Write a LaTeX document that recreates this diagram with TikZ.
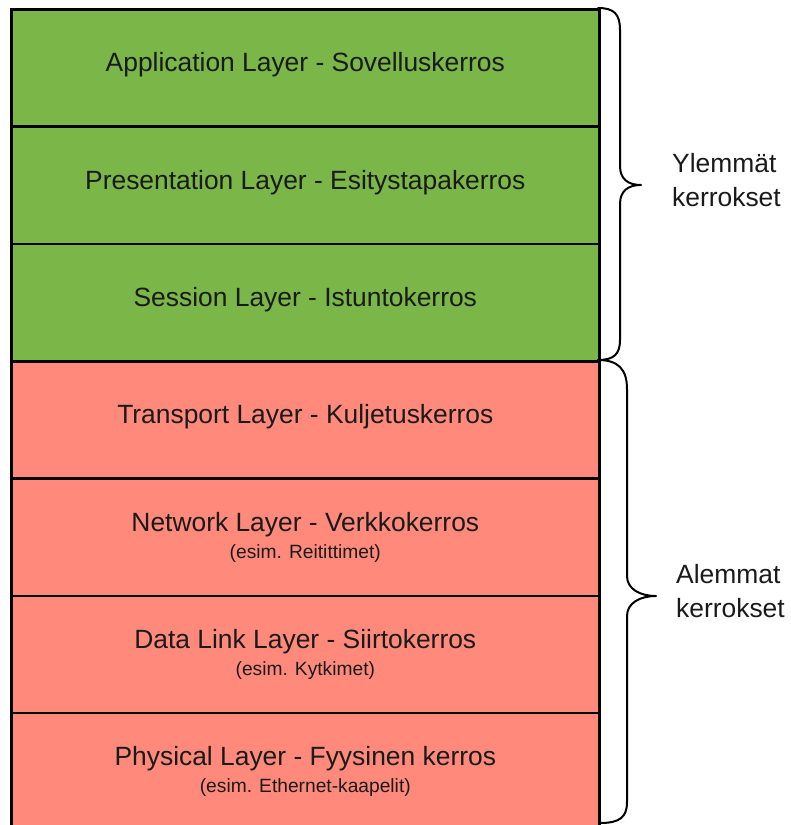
\documentclass[tikz,border=0pt]{standalone}
\usepackage{fontspec}
\setmainfont{Liberation Sans}
\definecolor{layergreen}{HTML}{7AB648}
\definecolor{layerred}{HTML}{FF8A7C}
\definecolor{txt}{HTML}{1A1A1A}
\begin{document}
\begin{tikzpicture}[x=1pt,y=-1pt,
  layerbox/.style={draw=black, line width=2.6pt, anchor=north west, minimum width=588pt, minimum height=117.3pt, inner sep=0pt},
  upper/.style={layerbox, fill=layergreen},
  lower/.style={layerbox, fill=layerred},
  ltext/.style={align=center, text=txt, inner sep=0pt, font=\fontsize{26.4}{29}\selectfont},
  brace/.style={draw=black, line width=2pt, line cap=round, line join=round},
  lbl/.style={align=left, anchor=west, text=txt, font=\fontsize{26.4}{34}\selectfont, inner sep=0pt}]
\useasboundingbox (0,0) rectangle (791,825);
\newcommand{\smalltxt}[1]{{\fontsize{19.2}{22}\selectfont #1}}
\node[upper] (r1) at (10,8) {};
\node[upper] (r2) at (10,125.3) {};
\node[upper] (r3) at (10,242.6) {};
\node[lower] (r4) at (10,359.9) {};
\node[lower] (r5) at (10,477.2) {};
\node[lower] (r6) at (10,594.5) {};
\node[lower, minimum height=125pt] (r7) at (10,711.8) {};
\node[ltext, yshift=3pt] (t1) at (r1.center) {Application Layer - Sovelluskerros};
\node[ltext, yshift=3pt] (t2) at (r2.center) {Presentation Layer - Esitystapakerros};
\node[ltext, yshift=3pt] (t3) at (r3.center) {Session Layer - Istuntokerros};
\node[ltext, yshift=3pt] (t4) at (r4.center) {Transport Layer - Kuljetuskerros};
\node[ltext] (t5) at (r5.center) {Network Layer - Verkkokerros\\[-2pt]\smalltxt{(esim. Reitittimet)}};
\node[ltext] (t6) at (r6.center) {Data Link Layer - Siirtokerros\\[-2pt]\smalltxt{(esim. Kytkimet)}};
\node[ltext] (t7) at ([yshift=3.85pt]r7.center) {Physical Layer - Fyysinen kerros\\[-2pt]\smalltxt{(esim. Ethernet-kaapelit)}};
% upper brace
\draw[brace] (598,8) .. controls (614,8) and (620,14) .. (620,30) -- (620,166)
  .. controls (620,179) and (628,185) .. (641,185)
  .. controls (628,185) and (620,191) .. (620,204) -- (620,340)
  .. controls (620,354) and (614,360) .. (598,360);
% lower brace
\draw[brace] (598,360) .. controls (618,360) and (627,369) .. (627,389) -- (627,576)
  .. controls (627,589) and (640,596) .. (656,596)
  .. controls (640,596) and (627,603) .. (627,616) -- (627,802)
  .. controls (627,817) and (620,823) .. (600,823);
\node[lbl] (up) at (672,180) {Ylemmät\\kerrokset};
\node[lbl] (lo) at (676,591) {Alemmat\\kerrokset};
\end{tikzpicture}
\end{document}
